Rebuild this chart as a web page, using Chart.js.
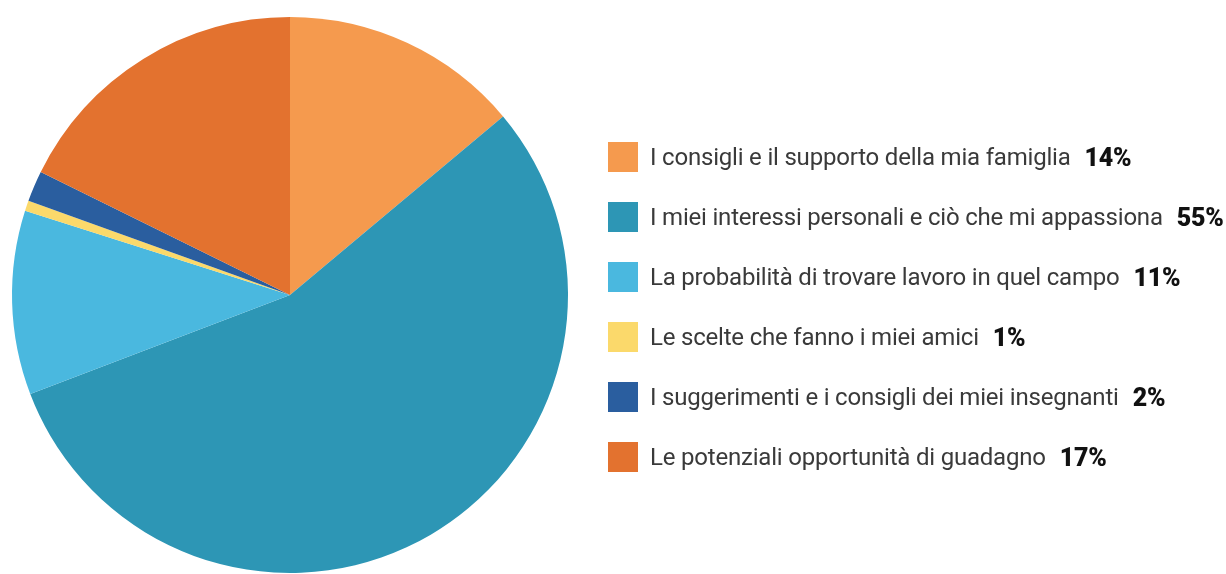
<!DOCTYPE html>
<html>
<head>
<meta charset="utf-8">
<script src="https://cdn.jsdelivr.net/npm/chart.js@4.4.0/dist/chart.umd.min.js"></script>
<style>
  html, body { margin: 0; padding: 0; background: #fff; }
  #wrap { position: relative; width: 1226px; height: 574px; overflow: hidden; }
  #pie { position: absolute; left: 0; top: 0; }
  #legend { position: absolute; left: 608px; top: 142px; font-family: "Roboto", sans-serif; }
  .row { display: flex; align-items: center; height: 30px; margin-bottom: 30px; white-space: nowrap; }
  .sw { width: 30px; height: 30px; margin-right: 12px; flex: none; }
  .lbl { font-size: 24px; color: #3a3a3a; letter-spacing: -0.2px; }
  .pct { font-size: 25px; font-weight: 900; color: #111; margin-left: 14px; letter-spacing: -0.3px; }
</style>
</head>
<body>
<div id="wrap">
  <canvas id="pie" width="1226" height="574"></canvas>
  <div id="legend"></div>
</div>
<script>
    "use strict";
    // 数据
    var categories = [
        "I consigli e il supporto della mia famiglia",
        "I miei interessi personali e ciò che mi appassiona",
        "La probabilità di trovare lavoro in quel campo",
        "Le scelte che fanno i miei amici",
        "I suggerimenti e i consigli dei miei insegnanti",
        "Le potenziali opportunità di guadagno"
    ];
    var values = [13.9, 55.3, 10.7, 0.6, 1.8, 17.7];
    var pctLabels = ["14%", "55%", "11%", "1%", "2%", "17%"];
    var colors = ["#F59A4E", "#2D96B5", "#4AB8DF", "#FBD96B", "#2A5E9F", "#E3722F"];

    // 图例
    var hHtml = "";
    for (var i = 0; i < categories.length; i++) {
        hHtml += '<div class="row"><div class="sw" style="background:' + colors[i] + '"></div>' +
                 '<span class="lbl">' + categories[i] + '</span>' +
                 '<span class="pct">' + pctLabels[i] + '</span></div>';
    }
    document.getElementById("legend").innerHTML = hHtml;

    // 饼图
    var ctx = document.getElementById("pie");
    var chart = new Chart(ctx, {
        type: "pie",
        data: {
            labels: categories,
            datasets: [{
                data: values,
                backgroundColor: colors,
                borderWidth: 0
            }]
        },
        options: {
            responsive: false,
            animation: false,
            layout: { padding: { left: 12, top: 17, right: 658, bottom: 1 } },
            plugins: {
                legend: { display: false },
                tooltip: { enabled: false }
            }
        }
    });
</script>
</body>
</html>
